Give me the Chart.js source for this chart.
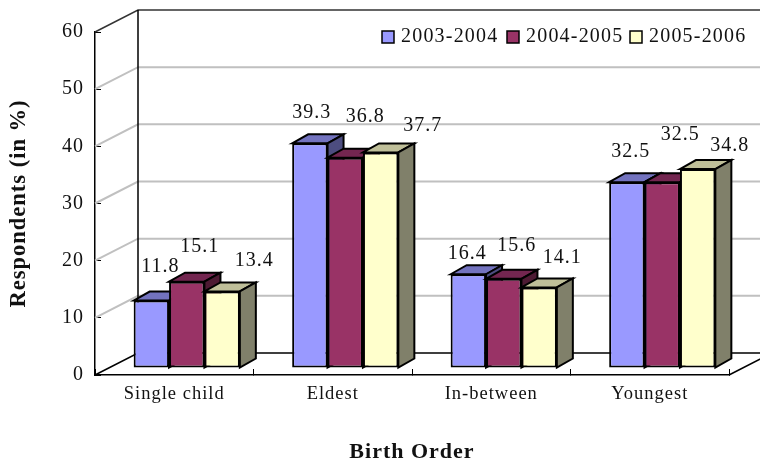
<!DOCTYPE html>
<html>
<head>
<meta charset="utf-8">
<style>
  body { margin: 0; background: #fff; }
  canvas { display: block; }
</style>
<script src="https://cdn.jsdelivr.net/npm/chart.js@4/dist/chart.umd.min.js"></script>
</head>
<body>
<canvas id="mychart" width="760" height="463"></canvas>
<script>
const categories = ['Single child', 'Eldest', 'In-between', 'Youngest'];
const seriesNames = ['2003-2004', '2004-2005', '2005-2006'];
const values2004 = [11.8, 39.3, 16.4, 32.5];
const values2005 = [15.1, 36.8, 15.6, 32.5];
const values2006 = [13.4, 37.7, 14.1, 34.8];
const frontColors = ['#9999FF', '#993366', '#FFFFCC'];
const topColors = ['#7373BF', '#732650', '#BFBF99'];
const sideColors = ['#4D4D80', '#4D1A33', '#80806A'];

// the value labels were moved by hand in the original, px from the bar's top centre
const labelShiftX = [[9, 2, -1, 4], [13, 20, 13, 18], [32, 42, 23, 32]];
const labelShiftY = [[-34, -31, -20, -30], [-35, -41, -33, -47], [-31, -27, -30, -23]];

const fontName = '"Liberation Serif", "Times New Roman", serif';
const wallX = 43, wallY = -22;     // floor depth
const barShiftX = 12.5, barShiftY = -7;  // bars stand in the middle of the floor
const barDepthX = 16, barDepthY = -9;

function drawWall(chart) {
    const c = chart.ctx;
    const y = chart.scales.y;
    const area = chart.chartArea;
    const ticks = y.ticks;
    c.save();
    for (let i = ticks.length - 1; i >= 0; i--) {
        const py = y.getPixelForValue(ticks[i].value);
        const edge = ticks[i].value === 60 || ticks[i].value === 0;
        c.strokeStyle = ticks[i].value === 0 ? '#000' : edge ? '#333' : '#C0C0C0';
        c.lineWidth = edge ? 1.5 : 2;
        c.beginPath();
        c.moveTo(area.left, py);
        c.lineTo(area.left + wallX, py + wallY);
        c.lineTo(area.right + wallX, py + wallY);
        c.stroke();
    }
    c.strokeStyle = '#000';
    c.lineWidth = 1.5;
    c.beginPath();
    c.moveTo(area.left + wallX, area.top + wallY);
    c.lineTo(area.left + wallX, area.bottom + wallY);
    c.moveTo(area.right, area.bottom);
    c.lineTo(area.right + wallX, area.bottom + wallY);
    c.stroke();
    c.restore();
}

function drawDepth(c, bar, i) {
    const left = bar.x - bar.width / 2;
    const right = bar.x + bar.width / 2;
    c.save();
    c.lineWidth = 2;
    c.strokeStyle = '#000';
    c.fillStyle = topColors[i];
    c.beginPath();
    c.moveTo(left, bar.y);
    c.lineTo(left + barDepthX, bar.y + barDepthY);
    c.lineTo(right + barDepthX, bar.y + barDepthY);
    c.lineTo(right, bar.y);
    c.closePath();
    c.fill();
    c.stroke();
    c.fillStyle = sideColors[i];
    c.beginPath();
    c.moveTo(right, bar.y);
    c.lineTo(right + barDepthX, bar.y + barDepthY);
    c.lineTo(right + barDepthX, bar.base + barDepthY);
    c.lineTo(right, bar.base);
    c.closePath();
    c.fill();
    c.stroke();
    c.restore();
}

function drawKey(c) {
    const keyX = [382, 507, 630];
    c.font = '20px ' + fontName;
    c.letterSpacing = '1.2px';
    c.textAlign = 'left';
    seriesNames.forEach(function (name, i) {
        c.fillStyle = frontColors[i];
        c.strokeStyle = '#000';
        c.lineWidth = 1.5;
        c.fillRect(keyX[i], 31, 12, 12);
        c.strokeRect(keyX[i], 31, 12, 12);
        c.fillStyle = '#111';
        c.fillText(name, keyX[i] + 19, 37);
    });
}

const depthPlugin = {
    id: 'depth',
    beforeDraw(chart) {
        chart.ctx.letterSpacing = '1px';
    },
    beforeDatasetsDraw(chart) {
        const c = chart.ctx;
        drawWall(chart);

        // left bar first, the next one covers its side face
        c.save();
        c.translate(barShiftX, barShiftY);
        chart.data.datasets.forEach(function (ds, i) {
            const meta = chart.getDatasetMeta(i);
            meta.data.forEach(function (bar) {
                drawDepth(c, bar, i);
            });
            meta.controller.draw();
        });
        c.restore();

        c.save();
        c.font = '20px ' + fontName;
        c.fillStyle = '#111';
        c.textAlign = 'center';
        c.textBaseline = 'middle';
        chart.data.datasets.forEach(function (ds, i) {
            chart.getDatasetMeta(i).data.forEach(function (bar, j) {
                const tx = bar.x + barShiftX + labelShiftX[i][j];
                const ty = bar.y + barShiftY + labelShiftY[i][j];
                c.fillText(ds.data[j].toFixed(1), tx, ty);
            });
        });
        drawKey(c);
        c.restore();
        return false;
    }
};

new Chart(document.getElementById('mychart'), {
    type: 'bar',
    data: {
        labels: categories,
        datasets: [
            { label: seriesNames[0], data: values2004 },
            { label: seriesNames[1], data: values2005 },
            { label: seriesNames[2], data: values2006 }
        ].map(function (ds, i) {
            ds.backgroundColor = frontColors[i];
            ds.borderColor = '#000';
            ds.borderWidth = 2;
            ds.borderSkipped = false;
            return ds;
        })
    },
    options: {
        responsive: false,
        animation: false,
        layout: { padding: { top: 32, right: 31, left: 0, bottom: 0 } },
        datasets: { bar: { categoryPercentage: 0.67, barPercentage: 1 } },
        plugins: { legend: { display: false }, tooltip: { enabled: false } },
        scales: {
            x: {
                afterFit(scale) { scale.height = 88; },
                grid: { drawOnChartArea: false, tickLength: -6, tickColor: '#000', offset: true },
                border: { color: '#000', width: 1.5 },
                ticks: { color: '#111', font: { family: fontName, size: 18.5 }, padding: 14, maxRotation: 0 },
                title: { display: true, text: 'Birth Order', color: '#111', font: { family: fontName, size: 22, weight: 'bold', lineHeight: 1 }, padding: { top: 0, bottom: 0 } }
            },
            y: {
                min: 0,
                max: 60,
                afterFit(scale) { scale.width = 95; },
                grid: { drawOnChartArea: false, tickLength: -6, tickColor: '#000' },
                border: { color: '#000', width: 1.5 },
                ticks: { stepSize: 10, color: '#111', font: { family: fontName, size: 20 }, padding: 17 },
                title: { display: true, text: 'Respondents (in %)', color: '#111', font: { family: fontName, size: 22.5, weight: 'bold' }, padding: { top: 6, bottom: 0 } }
            }
        }
    },
    plugins: [depthPlugin]
});
</script>
</body>
</html>
